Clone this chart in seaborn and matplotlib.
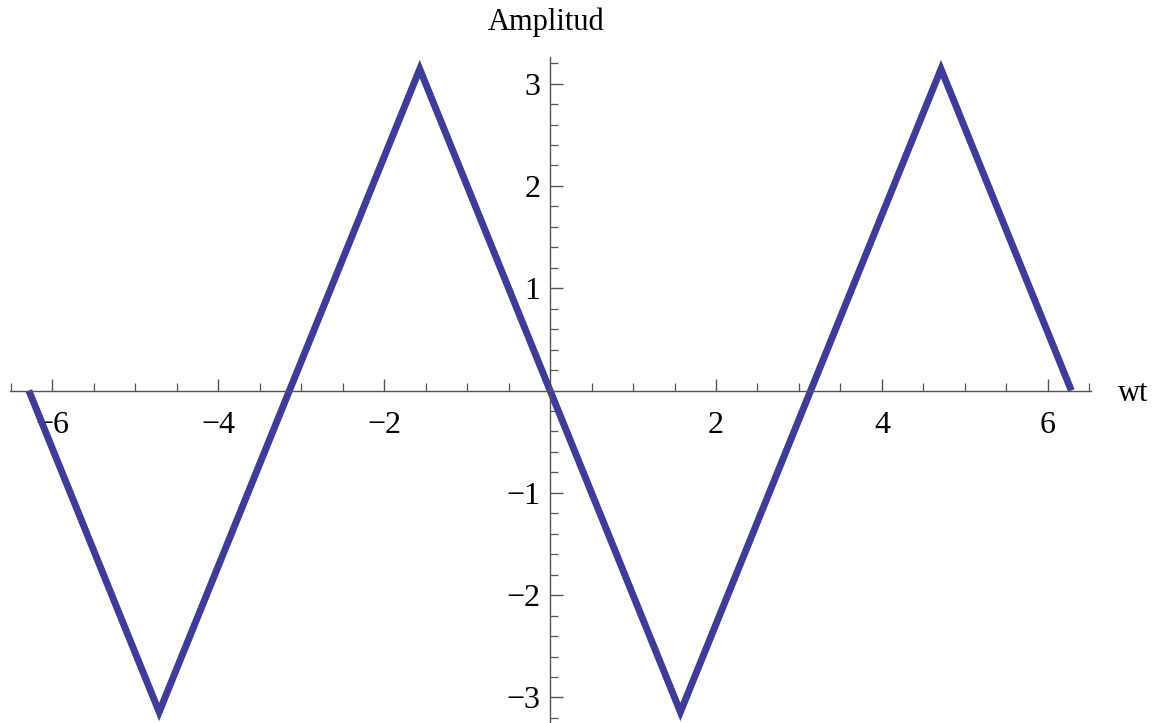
import numpy as np
import pandas as pd
import matplotlib
matplotlib.use("Agg")
import matplotlib.pyplot as plt
import seaborn as sns
from matplotlib.ticker import MultipleLocator, FixedLocator

# Triangle wave vertices
wt = [-6.283, -4.712, -1.571, 1.571, 4.712, 6.283]
amplitude = [0.0, -3.142, 3.142, -3.142, 3.142, 0.0]

x_ticks = [-6, -4, -2, 2, 4, 6]
x_tick_labels = ["\u22126", "\u22124", "\u22122", "2", "4", "6"]
y_ticks = [-3, -2, -1, 1, 2, 3]
y_tick_labels = ["\u22123", "\u22122", "\u22121", "1", "2", "3"]

sns.set_theme(style="white")
plt.rcParams["font.family"] = ["Liberation Serif", "DejaVu Serif"]

df = pd.DataFrame({"wt": wt, "Amplitud": amplitude})

fig = plt.figure(figsize=(11.53, 7.23), dpi=100)
ax = fig.add_axes([10 / 1153, 0.0, (1091 - 10) / 1153, 1 - 57 / 723])

sns.lineplot(data=df, x="wt", y="Amplitud", ax=ax, color="#3d3d99",
             linewidth=5.0, sort=False, clip_on=False)
for ln in ax.get_lines():
    ln.set_solid_joinstyle("miter")
    ln.set_solid_capstyle("butt")

ax.set_xlim(-6.51, 6.52)
ax.set_ylim(-3.25, 3.26)

# Axes cross at the origin
ax.spines["left"].set_position(("data", 0))
ax.spines["bottom"].set_position(("data", 0))
ax.spines["right"].set_visible(False)
ax.spines["top"].set_visible(False)
for s in ("left", "bottom"):
    ax.spines[s].set_color("#555555")
    ax.spines[s].set_linewidth(1.0)

ax.xaxis.set_major_locator(FixedLocator(x_ticks))
ax.set_xticklabels(x_tick_labels)
ax.yaxis.set_major_locator(FixedLocator(y_ticks))
ax.set_yticklabels(y_tick_labels)
ax.xaxis.set_minor_locator(MultipleLocator(0.5))
ax.yaxis.set_minor_locator(MultipleLocator(0.2))

ax.tick_params(axis="both", which="both", direction="in", color="#555555",
               left=True, bottom=True, labelsize=23, labelcolor="black")
ax.tick_params(axis="both", which="major", length=9, width=1.0)
ax.tick_params(axis="both", which="minor", length=5.5, width=0.9)
ax.tick_params(axis="x", which="major", pad=15)
ax.tick_params(axis="y", which="major", pad=7)

ax.set_xlabel("")
ax.set_ylabel("")
fig.text(546 / 1153, 1 - 22 / 723, "Amplitud", ha="center", va="center",
         fontsize=22, color="black")
fig.text(1118 / 1153, 1 - 394 / 723, "wt", ha="left", va="center",
         fontsize=22, color="black")

fig.savefig("out.png", dpi=100)
